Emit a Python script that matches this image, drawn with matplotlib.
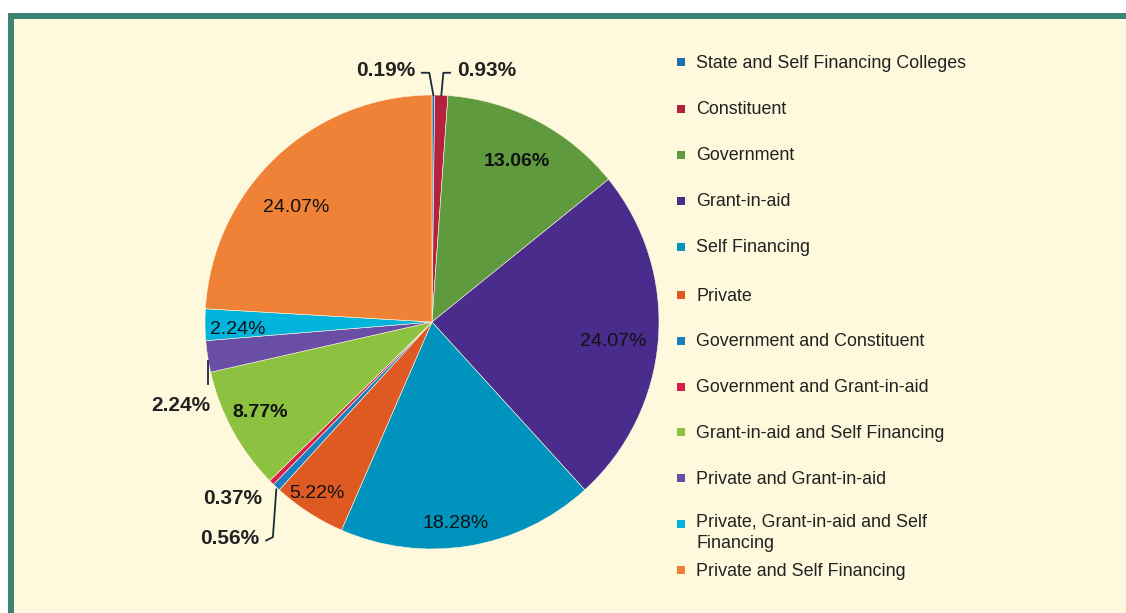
import numpy as np
import matplotlib
matplotlib.use("Agg")
from matplotlib import pyplot as plt
from matplotlib.patches import Rectangle

plt.rcParams['font.family'] = ['Liberation Sans', 'DejaVu Sans']

# data
categories = ["State and Self Financing Colleges", "Constituent", "Government",
              "Grant-in-aid", "Self Financing", "Private",
              "Government and Constituent", "Government and Grant-in-aid",
              "Grant-in-aid and Self Financing", "Private and Grant-in-aid",
              "Private, Grant-in-aid and Self\nFinancing", "Private and Self Financing"]
shares = [0.19, 0.93, 13.06, 24.07, 18.28, 5.22, 0.56, 0.37, 8.77, 2.24, 2.24, 24.07]
colors = ["#1f6db2", "#b5223f", "#5f9a3f", "#4a2c8c", "#0093bd", "#df5a23",
          "#1a7fc2", "#d81f4b", "#8cc240", "#6a4ea5", "#00b4dc", "#ef8237"]

W, H = 1126, 613
fig = plt.figure(figsize=(W / 100, H / 100), dpi=100)
fig.patch.set_facecolor("white")

# background panel with teal frame on top and left
fig.patches.append(Rectangle((8 / W, 0), 1, (H - 13) / H, transform=fig.transFigure,
                             facecolor="#3e8474", edgecolor="none", zorder=-20))
fig.patches.append(Rectangle((14 / W, 0), 1, (H - 19) / H, transform=fig.transFigure,
                             facecolor="#fef9dc", edgecolor="none", zorder=-19))

# pie axes: center at pixel (432, 322), radius 227 px
R = 227.0
cx, cy = 432.0, H - 322.0
half = 1.4
ax = fig.add_axes([(cx - half * R) / W, (cy - half * R) / H, 2 * half * R / W, 2 * half * R / H])
ax.set_zorder(5)
ax.axis("off")

wedges, _ = ax.pie(shares, colors=colors, startangle=90, counterclock=False,
                   radius=1.0, wedgeprops=dict(linewidth=0.4, edgecolor="#fef9dc"))
ax.set_xlim(-half, half)
ax.set_ylim(-half, half)


def mid(w, r, shift=0.0):
    a = np.deg2rad((w.theta1 + w.theta2) / 2 + shift)
    return r * np.cos(a), r * np.sin(a)


# inside labels: slice index -> (radius, angle shift, bold)
inside = {2: (0.81, 0, True), 3: (0.80, -1, False), 4: (0.88, -2.5, False),
          5: (0.90, -1.5, False), 8: (0.85, -1.5, True), 10: (0.855, 0.8, False),
          11: (0.79, 6, False)}
for i, (r, s, b) in inside.items():
    x, y = mid(wedges[i], r, s)
    ax.text(x, y - 0.012, f"{shares[i]:.2f}%", ha="center", va="center", fontsize=14,
            fontweight="bold" if b else "normal", color="#111111")

lc = "#1b2a3a"
# 0.19% (top, left)
x0, y0 = mid(wedges[0], 1.0)
ax.plot([-0.045, -0.012, x0], [1.098, 1.098, y0], color=lc, lw=1.3)
ax.text(-0.075, 1.11, f"{shares[0]:.2f}%", ha="right", va="center", fontsize=15,
        fontweight="bold", color="#222222")
# 0.93% (top, right)
x1, y1 = mid(wedges[1], 1.0)
ax.plot([0.08, 0.05, x1], [1.098, 1.098, y1], color=lc, lw=1.3)
ax.text(0.11, 1.11, f"{shares[1]:.2f}%", ha="left", va="center", fontsize=15,
        fontweight="bold", color="#222222")
# 2.24% private and grant-in-aid
x9, y9 = mid(wedges[9], 1.0)
ax.plot([x9, x9], [y9 - 0.02, y9 - 0.12], color=lc, lw=1.3)
ax.text(x9 + 0.01, y9 - 0.215, f"{shares[9]:.2f}%", ha="right", va="center", fontsize=15,
        fontweight="bold", color="#222222")
# 0.37% and 0.56%
x7, y7 = mid(wedges[7], 1.0)
ax.text(x7 - 0.04, y7 - 0.07, f"{shares[7]:.2f}%", ha="right", va="center", fontsize=15,
        fontweight="bold", color="#222222")
x6, y6 = mid(wedges[6], 1.0)
ax.plot([x6, x6 - 0.015, x6 - 0.045], [y6 - 0.01, y6 - 0.22, y6 - 0.235], color=lc, lw=1.3)
ax.text(x6 - 0.075, y6 - 0.225, f"{shares[6]:.2f}%", ha="right", va="center", fontsize=15,
        fontweight="bold", color="#222222")

# legend drawn by hand
leg_y = [62, 109, 155, 201, 247, 295, 341, 387, 432, 478, 532, 570]
for lab, col, ly in zip(categories, colors, leg_y):
    yy = 1 - ly / H
    sq_y = yy - 4 / H
    if "\n" in lab:
        sq_y = 1 - 528 / H
    fig.patches.append(Rectangle((677 / W, sq_y), 8 / W, 8 / H, transform=fig.transFigure,
                                 facecolor=col, edgecolor="none"))
    fig.text(696 / W, yy - 1 / H, lab, ha="left", va="center", fontsize=12.9, color="#222222",
             linespacing=1.34)

fig.savefig("out.png", dpi=100, facecolor=fig.get_facecolor())
